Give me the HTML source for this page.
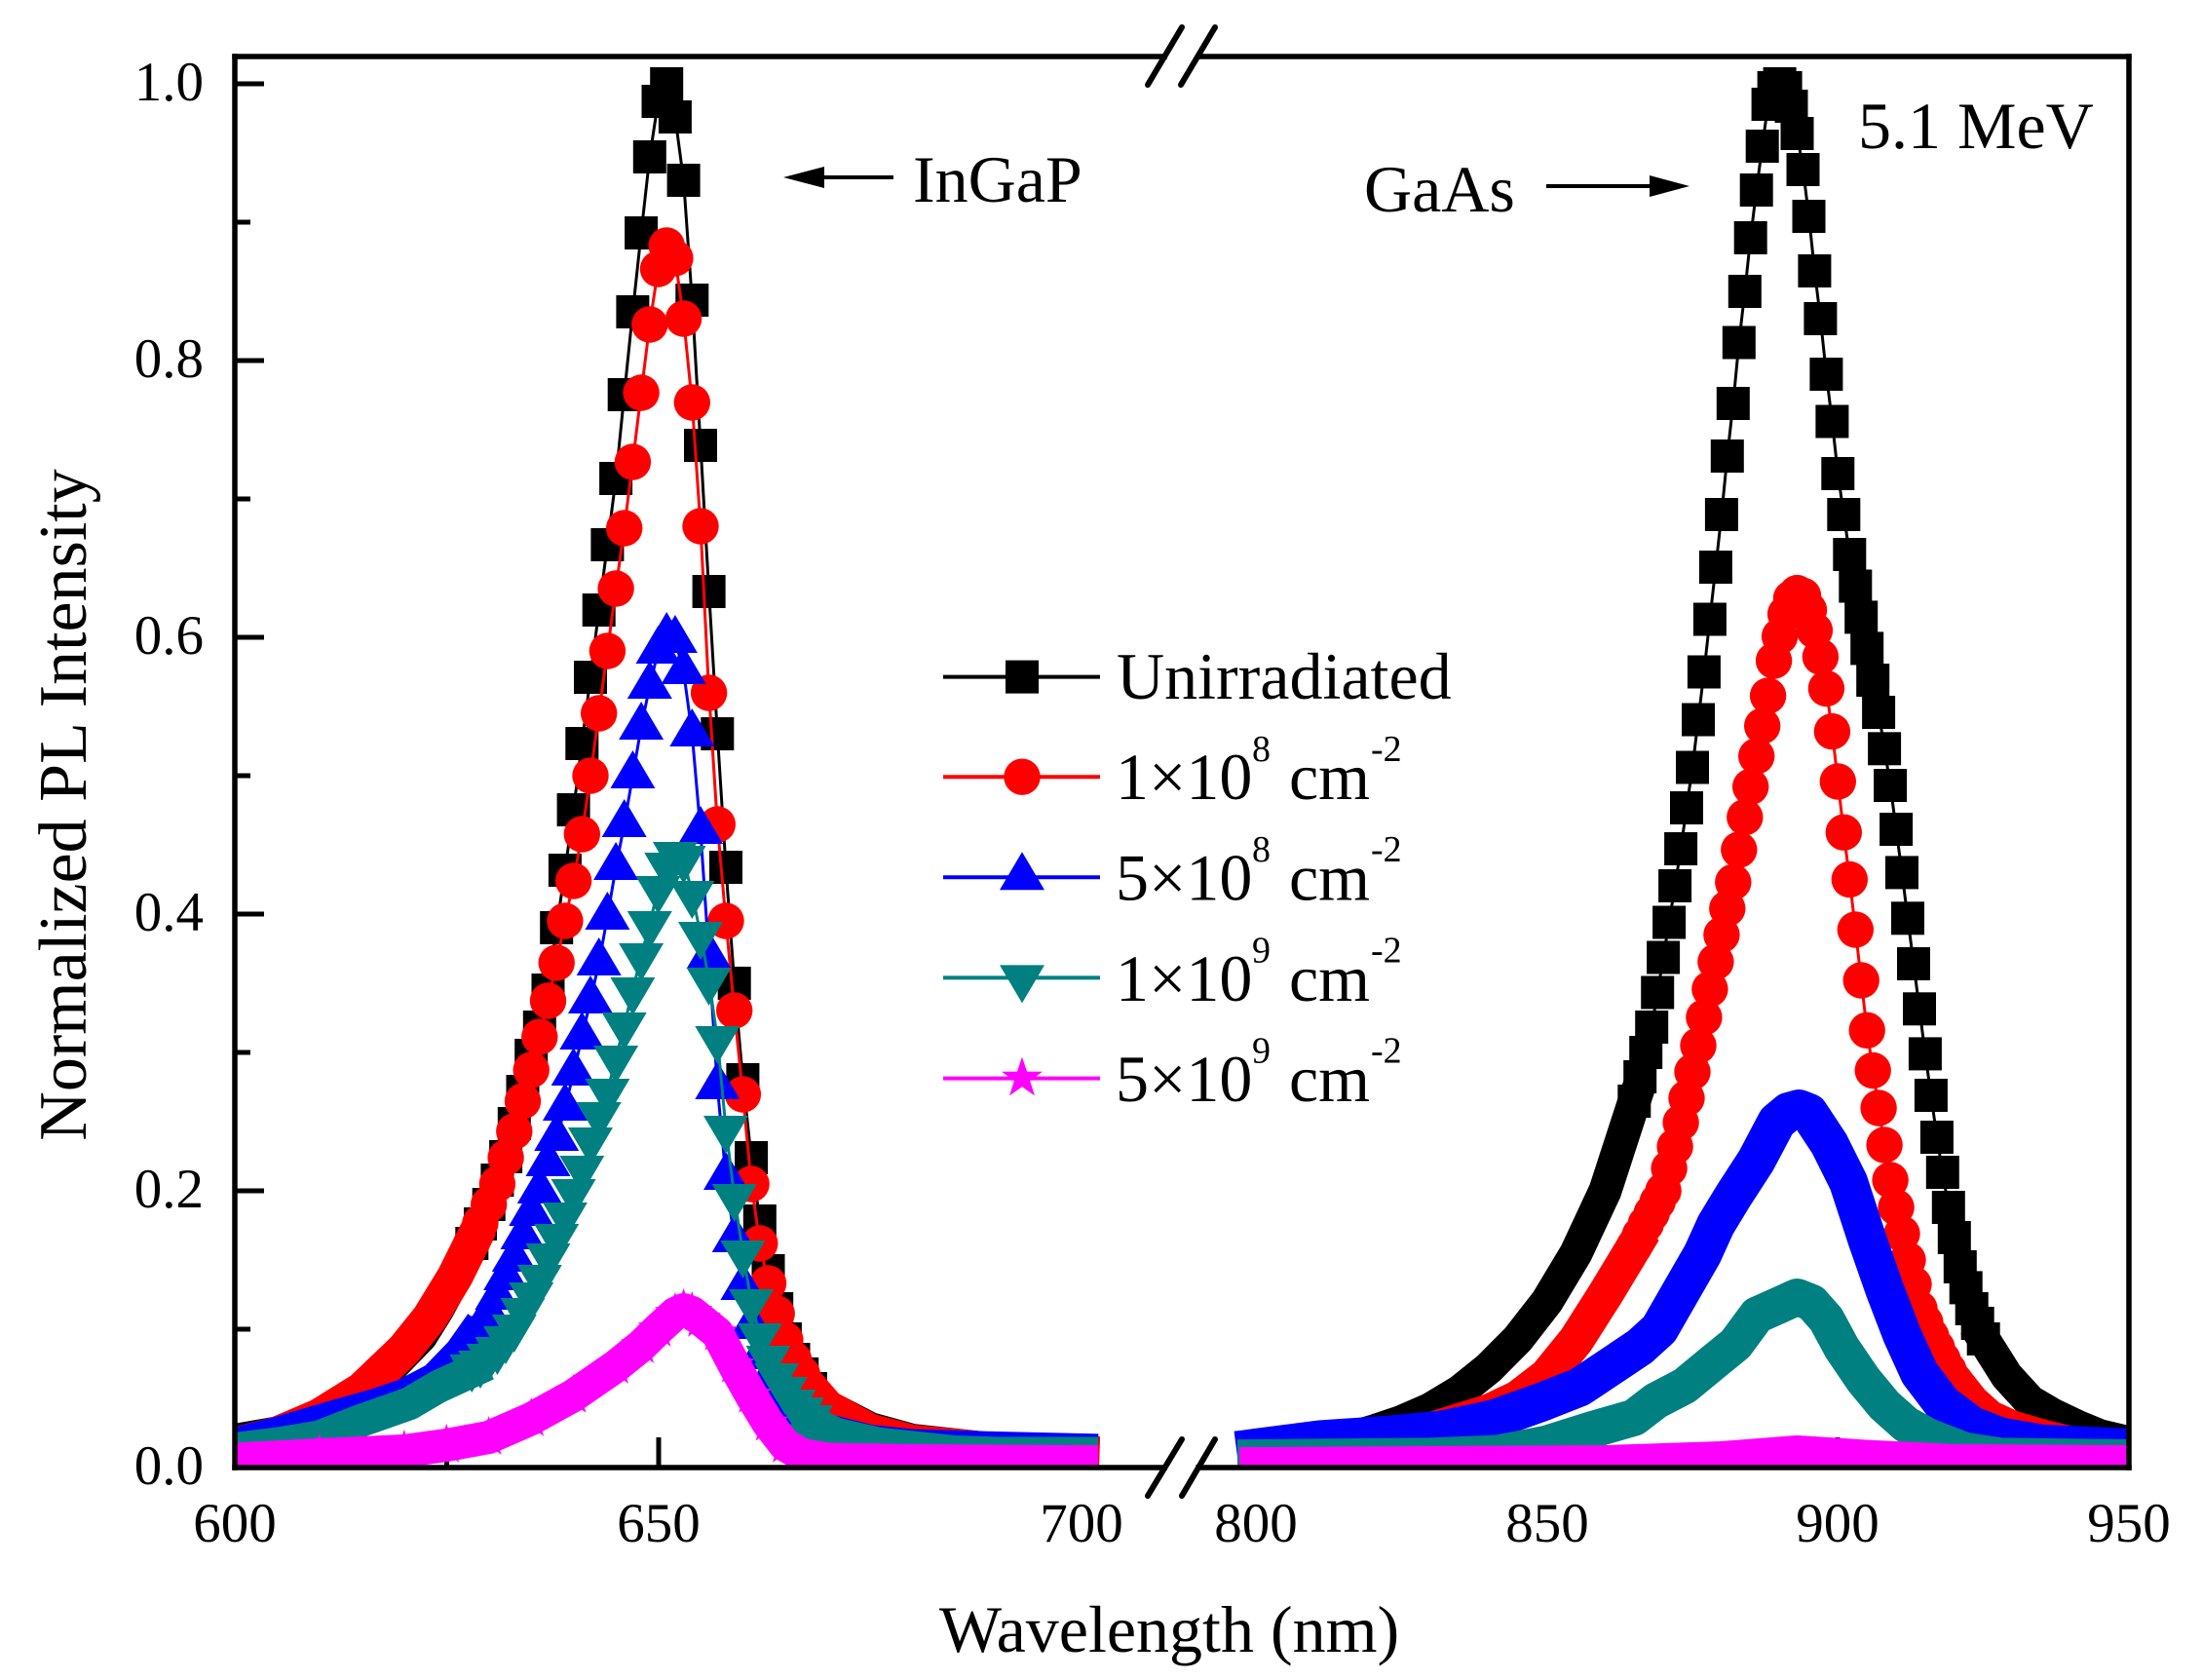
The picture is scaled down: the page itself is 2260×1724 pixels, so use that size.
<!DOCTYPE html>
<html>
<head>
<meta charset="utf-8">
<style>
html,body{margin:0;padding:0;background:#fff;}
svg{display:block;}
text{font-family:"Liberation Serif","Times New Roman",serif;fill:#000;}
</style>
</head>
<body>
<svg xmlns="http://www.w3.org/2000/svg" width="2260" height="1724" viewBox="0 0 2260 1724">
<rect x="0" y="0" width="2260" height="1724" fill="#fff"/>
<defs>
  <clipPath id="pc"><rect x="241" y="58" width="1944" height="1448"/></clipPath>
  <marker id="mS" markerUnits="userSpaceOnUse" markerWidth="60" markerHeight="60" refX="30" refY="30" orient="0" overflow="visible"><rect x="13" y="13" width="34" height="34" fill="#000"/></marker>
  <marker id="mC" markerUnits="userSpaceOnUse" markerWidth="60" markerHeight="60" refX="30" refY="30" orient="0" overflow="visible"><circle cx="30" cy="30" r="18.7" fill="#ff0000"/></marker>
  <marker id="mU" markerUnits="userSpaceOnUse" markerWidth="60" markerHeight="60" refX="30" refY="30" orient="0" overflow="visible"><path d="M30 4L53 43L7 43Z" fill="#0000ff"/></marker>
  <marker id="mD" markerUnits="userSpaceOnUse" markerWidth="60" markerHeight="60" refX="30" refY="30" orient="0" overflow="visible"><path d="M7 17L53 17L30 56Z" fill="#008080"/></marker>
  <marker id="mT" markerUnits="userSpaceOnUse" markerWidth="60" markerHeight="60" refX="30" refY="30" orient="0" overflow="visible"><path d="M30 8L35.06 23.04L50.92 23.2L38.18 32.66L42.93 47.8L30 38.6L17.07 47.8L21.82 32.66L9.08 23.2L24.94 23.04Z" fill="#ff00ff"/></marker>
</defs>

<!-- ticks -->
<g stroke="#000" stroke-width="5" fill="none">
  <line x1="241" y1="1506" x2="271" y2="1506"/>
  <line x1="241" y1="1222" x2="271" y2="1222"/>
  <line x1="241" y1="938" x2="271" y2="938"/>
  <line x1="241" y1="654" x2="271" y2="654"/>
  <line x1="241" y1="370" x2="271" y2="370"/>
  <line x1="241" y1="86" x2="271" y2="86"/>
  <line x1="241" y1="1364" x2="257" y2="1364"/>
  <line x1="241" y1="1080" x2="257" y2="1080"/>
  <line x1="241" y1="796" x2="257" y2="796"/>
  <line x1="241" y1="512" x2="257" y2="512"/>
  <line x1="241" y1="228" x2="257" y2="228"/>
  <line x1="676" y1="1506" x2="676" y2="1475"/>
  <line x1="1110" y1="1506" x2="1110" y2="1475"/>
  <line x1="1289" y1="1506" x2="1289" y2="1475"/>
  <line x1="1588" y1="1506" x2="1588" y2="1475"/>
  <line x1="1886" y1="1506" x2="1886" y2="1475"/>
  <line x1="458.5" y1="1506" x2="458.5" y2="1491"/>
  <line x1="893.5" y1="1506" x2="893.5" y2="1491"/>
  <line x1="1438.5" y1="1506" x2="1438.5" y2="1491"/>
  <line x1="1737" y1="1506" x2="1737" y2="1491"/>
  <line x1="2035.5" y1="1506" x2="2035.5" y2="1491"/>
</g>

<g clip-path="url(#pc)">
  <!-- BLACK: Unirradiated -->
  <g fill="none" stroke="#000" stroke-width="34" stroke-linejoin="round" stroke-linecap="square">
    <path d="M241 1478 L284.5 1470.5 L327.9 1456 L371.4 1428 L397.4 1407 L432.2 1371 L449.6 1343 L466.9 1311 L484.3 1276"/>
    <path d="M831.9 1425 L849.3 1443.5 L892.8 1466 L936.2 1478 L1023.1 1487.5 L1110 1492"/>
    <path d="M1289 1492 L1318.9 1487.5 L1348.7 1483 L1378.6 1477.6 L1408.5 1469 L1438.3 1459 L1468.2 1446 L1498.1 1428 L1528 1404 L1557.8 1374 L1587.7 1335.6 L1617.5 1286 L1647.4 1222 L1677.3 1130"/>
    <path d="M2035.7 1374 L2059.6 1412 L2083.4 1438 L2107.3 1452 L2131.2 1463.4 L2155.1 1473.3 L2185 1480.4"/>
  </g>
  <g fill="none" stroke="#000" stroke-width="3" marker-start="url(#mS)" marker-mid="url(#mS)" marker-end="url(#mS)">
    <path d="M484.3 1276 L493 1256 L501.7 1236 L510.4 1211 L519.1 1187 L527.8 1153 L536.5 1120 L545.2 1083 L553.8 1054 L562.5 1016 L571.2 952 L579.9 893 L588.6 831 L597.3 763 L606 695 L614.7 626 L623.4 559 L632.1 491 L640.7 405 L649.4 320 L658.1 239 L666.8 161 L675.5 104 L684.2 86 L692.9 120 L701.6 185 L710.3 308 L719 457 L727.6 607 L736.3 753 L745 890 L753.7 1009 L762.4 1108 L771.1 1188 L779.8 1253 L788.5 1304 L797.2 1343 L805.9 1374 L814.5 1395 L823.2 1410 L831.9 1425"/>
    <path d="M1677.3 1130 L1683.2 1105 L1689.2 1080 L1695.2 1054 L1701.2 1018.5 L1707.1 982.5 L1713.1 946.5 L1719.1 909 L1725.1 871 L1731 829 L1737 787.5 L1743 738.5 L1748.9 689.5 L1754.9 635.5 L1760.9 582 L1766.9 528 L1772.8 468 L1778.8 414 L1784.8 351.5 L1790.8 299 L1796.7 244 L1802.7 195 L1808.7 150 L1814.6 107 L1820.6 90 L1826.6 86 L1832.6 90 L1838.5 109 L1844.5 137 L1850.5 174 L1856.5 222 L1862.4 278 L1868.4 327 L1874.4 384 L1880.4 432.5 L1886.3 486 L1892.3 528 L1898.3 569 L1904.3 601.5 L1910.2 633.4 L1916.2 665.4 L1922.2 698 L1928.1 731 L1934.1 768.3 L1940.1 806 L1946.1 851 L1952 895.4 L1958 942.3 L1964 989 L1970 1035.3 L1975.9 1081.4 L1981.9 1124 L1987.9 1167 L1993.8 1203 L1999.8 1239 L2005.8 1270 L2011.8 1300 L2017.7 1321.4 L2023.7 1343 L2029.7 1358 L2035.7 1374"/>
  </g>

  <!-- RED: 1e8 -->
  <g fill="none" stroke="#ff0000" stroke-width="37" stroke-linejoin="round" stroke-linecap="square">
    <path d="M241 1483 L284.5 1472 L327.9 1453.5 L371.4 1426.5 L414.8 1385 L440.9 1352.6 L466.9 1310 L484.3 1275"/>
    <path d="M831.9 1425 L849.3 1445 L892.8 1469 L936.2 1480.4 L1023.1 1489 L1110 1492"/>
    <path d="M1289 1494.6 L1348.7 1489 L1408.5 1481.9 L1468.2 1467.7 L1528 1449 L1557.8 1435 L1587.7 1412 L1617.5 1375.4 L1647.4 1328.5 L1677.3 1279"/>
    <path d="M2005.8 1416.5 L2023.7 1439 L2041.6 1455 L2065.5 1466 L2095.4 1474.8 L2125.3 1482 L2155.1 1486 L2185 1489"/>
  </g>
  <g fill="none" stroke="#ff0000" stroke-width="3" marker-start="url(#mC)" marker-mid="url(#mC)" marker-end="url(#mC)">
    <path d="M484.3 1275 L493 1255 L501.7 1236 L510.4 1215 L519.1 1188 L527.8 1161 L536.5 1130 L545.2 1098 L553.8 1064 L562.5 1027 L571.2 988 L579.9 945 L588.6 904 L597.3 856 L606 796 L614.7 732 L623.4 668 L632.1 604 L640.7 542 L649.4 474 L658.1 403 L666.8 333 L675.5 276 L684.2 252 L692.9 265 L701.6 327 L710.3 413 L719 540 L727.6 711 L736.3 846 L745 945 L753.7 1037 L762.4 1123 L771.1 1215 L779.8 1276 L788.5 1317 L797.2 1348 L805.9 1375 L814.5 1395 L823.2 1410 L831.9 1425"/>
    <path d="M1677.3 1279 L1683.2 1267.4 L1689.2 1256 L1695.2 1245 L1701.2 1233.4 L1707.1 1222 L1713.1 1199 L1719.1 1176.6 L1725.1 1152 L1731 1127 L1737 1100 L1743 1073 L1748.9 1044 L1754.9 1015 L1760.9 987 L1766.9 959.3 L1772.8 932.3 L1778.8 905.3 L1784.8 872 L1790.8 838.6 L1796.7 807.4 L1802.7 776 L1808.7 745 L1814.6 714 L1820.6 678 L1826.6 653 L1832.6 630 L1838.5 614 L1844.5 608.6 L1850.5 611.4 L1856.5 626 L1862.4 647 L1868.4 674 L1874.4 706.5 L1880.4 750.6 L1886.3 802 L1892.3 854.2 L1898.3 902.5 L1904.3 954 L1910.2 1006 L1916.2 1057.3 L1922.2 1098.5 L1928.1 1137 L1934.1 1175 L1940.1 1211 L1946.1 1239 L1952 1266 L1958 1293 L1964 1318 L1970 1343 L1975.9 1357 L1981.9 1371 L1987.9 1383 L1993.8 1395 L1999.8 1406 L2005.8 1416.5"/>
  </g>

  <!-- BLUE: 5e8 -->
  <g fill="none" stroke="#0000ff" stroke-width="34" stroke-linejoin="round" stroke-linecap="square" transform="translate(0,-4)">
    <path d="M241 1486 L284.5 1475 L349.6 1456 L385.3 1446 L414.8 1436 L447 1419 L473 1392 L484.3 1376"/>
    <path d="M831.9 1463 L849.3 1472 L892.8 1483 L936.2 1487.5 L1023.1 1490 L1110 1492"/>
  </g>
  <g fill="none" stroke="#0000ff" stroke-width="40" stroke-linejoin="round" stroke-linecap="square" transform="translate(0,-3)">
    <path d="M1289 1489 L1354.7 1480.4 L1420.4 1476 L1480.1 1470.5 L1533.9 1459 L1581.7 1442 L1621.1 1426.5 L1659.4 1401 L1683.2 1385 L1703 1367 L1725.1 1328.5 L1747.3 1290 L1760.9 1260 L1778.8 1230.5 L1802.7 1193.6 L1823.6 1154 L1835.6 1144 L1846.3 1141 L1856.5 1145 L1877.4 1176.6 L1897.1 1216 L1911.5 1260 L1916.2 1274.5 L1934.1 1325.7 L1952 1372.5 L1970 1412 L1993.8 1443.5 L2023.7 1466 L2053.6 1477.6 L2095.4 1484.7 L2185 1489"/>
  </g>
  <g fill="none" stroke="#0000ff" stroke-width="3" marker-start="url(#mU)" marker-mid="url(#mU)" marker-end="url(#mU)">
    <path d="M484.3 1376 L493 1363 L501.7 1348 L510.4 1331 L519.1 1311 L527.8 1292 L536.5 1269 L545.2 1245 L553.8 1222 L562.5 1194 L571.2 1168 L579.9 1137 L588.6 1101 L597.3 1064 L606 1027 L614.7 988 L623.4 941 L632.1 890 L640.7 846 L649.4 796 L658.1 746 L666.8 704 L675.5 668 L684.2 654 L692.9 657 L701.6 689 L710.3 753 L719 853 L727.6 981 L736.3 1115 L745 1208 L753.7 1272 L762.4 1321 L771.1 1361 L779.8 1392 L788.5 1415 L797.2 1429 L805.9 1442 L814.5 1449 L823.2 1456 L831.9 1463"/>
  </g>

  <!-- TEAL: 1e9 -->
  <g fill="none" stroke="#008080" stroke-width="34" stroke-linejoin="round" stroke-linecap="square" transform="translate(0,4)">
    <path d="M241 1483 L284.5 1477.6 L327.9 1470.5 L371.4 1453.5 L420 1436.4 L449.6 1419 L484.3 1403"/>
    <path d="M831.9 1455 L858 1467.7 L901.4 1477.6 L979.7 1486 L1023.1 1487.5 L1110 1487.5"/>
  </g>
  <g fill="none" stroke="#008080" stroke-width="38" stroke-linejoin="round" stroke-linecap="square" transform="translate(0,4)">
    <path d="M1289 1492 L1468.2 1490.4 L1537 1487.5 L1587.7 1477.6 L1633.1 1463.4 L1677.3 1450.6 L1699.4 1433.6 L1729.2 1418 L1758.5 1393.8 L1781.2 1375.4 L1803.3 1345.5 L1825.4 1335.6 L1844.5 1327 L1859.4 1332.8 L1874.4 1349.8 L1890.5 1379.6 L1912.6 1412 L1934.1 1438 L1956.2 1457.7 L1979.5 1470.5 L2016.5 1484.7 L2053.6 1490.4 L2185 1492"/>
  </g>
  <g fill="none" stroke="#008080" stroke-width="3" marker-start="url(#mD)" marker-mid="url(#mD)" marker-end="url(#mD)">
    <path d="M484.3 1403 L493 1399 L501.7 1392 L510.4 1385 L519.1 1374 L527.8 1362 L536.5 1345 L545.2 1329 L553.8 1311 L562.5 1289 L571.2 1269 L579.9 1247 L588.6 1223 L597.3 1199 L606 1170 L614.7 1144 L623.4 1120 L632.1 1086 L640.7 1052 L649.4 1016 L658.1 981 L666.8 948 L675.5 912 L684.2 888 L692.9 877 L701.6 881 L710.3 917 L719 959 L727.6 1006 L736.3 1066 L745 1158 L753.7 1228 L762.4 1286 L771.1 1336 L779.8 1371 L788.5 1394 L797.2 1412 L805.9 1426 L814.5 1439 L823.2 1447 L831.9 1455"/>
  </g>

  <!-- MAGENTA: 5e9 -->
  <g fill="none" stroke="#ff00ff" stroke-width="34" stroke-linejoin="round" stroke-linecap="square">
    <path d="M241 1497.5 L327.9 1493 L414.8 1489 L458.3 1483 L501.7 1475 L545.2 1456 L588.6 1432 L632.1 1402 L658.1 1381 L675.5 1364 L692.9 1348 L701.6 1344 L710.3 1347 L719 1354 L736.3 1368 L753.7 1401 L771.1 1432 L788.5 1460.6 L805.9 1483 L823.2 1493 L849.3 1497.5 L936.2 1499 L1110 1500"/>
    <path d="M1289 1502 L1647.4 1500 L1766.9 1496 L1844.5 1490 L1916.2 1494.6 L2005.8 1499 L2185 1500"/>
  </g>
  <g fill="none" stroke="none" marker-mid="url(#mT)">
    <path d="M241 1497.5 L327.9 1493 L414.8 1489 L458.3 1483 L501.7 1475 L545.2 1456 L588.6 1432 L632.1 1402 L658.1 1381 L675.5 1364 L692.9 1348 L701.6 1344 L710.3 1347 L719 1354 L736.3 1368 L753.7 1401 L771.1 1432 L788.5 1460.6 L805.9 1483 L823.2 1493 L849.3 1497.5"/>
  </g>
</g>

<!-- frame -->
<g stroke="#000" stroke-width="5.5" fill="none" stroke-linecap="square">
  <line x1="241" y1="58" x2="1195" y2="58"/>
  <line x1="1230" y1="58" x2="2185" y2="58"/>
  <line x1="241" y1="1506" x2="1195" y2="1506"/>
  <line x1="1230" y1="1506" x2="2185" y2="1506"/>
  <line x1="241" y1="58" x2="241" y2="1506"/>
  <line x1="2185" y1="58" x2="2185" y2="1506"/>
</g>
<g stroke="#000" stroke-width="6" stroke-linecap="round">
  <line x1="1178" y1="87" x2="1213" y2="28"/>
  <line x1="1212" y1="87" x2="1247" y2="28"/>
  <line x1="1178" y1="1535" x2="1213" y2="1477"/>
  <line x1="1213" y1="1535" x2="1247" y2="1477"/>
</g>

<!-- tick labels -->
<g font-size="57">
  <text x="209" y="1523" text-anchor="end">0.0</text>
  <text x="209" y="1239" text-anchor="end">0.2</text>
  <text x="209" y="955" text-anchor="end">0.4</text>
  <text x="209" y="671" text-anchor="end">0.6</text>
  <text x="209" y="387" text-anchor="end">0.8</text>
  <text x="209" y="103" text-anchor="end">1.0</text>
  <text x="241" y="1582" text-anchor="middle">600</text>
  <text x="676" y="1582" text-anchor="middle">650</text>
  <text x="1110" y="1582" text-anchor="middle">700</text>
  <text x="1289" y="1582" text-anchor="middle">800</text>
  <text x="1588" y="1582" text-anchor="middle">850</text>
  <text x="1886" y="1582" text-anchor="middle">900</text>
  <text x="2185" y="1582" text-anchor="middle">950</text>
</g>

<!-- axis titles -->
<text x="1200" y="1695" font-size="68" text-anchor="middle">Wavelength (nm)</text>
<text transform="translate(88,826) rotate(-90)" font-size="70" text-anchor="middle">Normalized PL Intensity</text>

<!-- annotations -->
<text x="937" y="207" font-size="68">InGaP</text>
<line x1="845" y1="182" x2="917" y2="182" stroke="#000" stroke-width="4"/>
<polygon points="804,182 846,171 846,193" fill="#000"/>
<text x="1400" y="217" font-size="68">GaAs</text>
<line x1="1587" y1="191" x2="1695" y2="191" stroke="#000" stroke-width="4"/>
<polygon points="1734,191 1693,180 1693,202" fill="#000"/>
<text x="1907" y="152" font-size="68">5.1 MeV</text>

<!-- legend -->
<g stroke-width="4">
  <line x1="968" y1="694.6" x2="1129" y2="694.6" stroke="#000"/>
  <line x1="968" y1="797.2" x2="1129" y2="797.2" stroke="#ff0000"/>
  <line x1="968" y1="900.2" x2="1129" y2="900.2" stroke="#0000ff"/>
  <line x1="968" y1="1003.4" x2="1129" y2="1003.4" stroke="#008080"/>
  <line x1="968" y1="1106.6" x2="1129" y2="1106.6" stroke="#ff00ff"/>
</g>
<rect x="1032" y="677.6" width="34" height="34" fill="#000"/>
<circle cx="1049" cy="797.2" r="18.7" fill="#ff0000"/>
<path d="M1049 874.2L1072 913.2L1026 913.2Z" fill="#0000ff"/>
<path d="M1026 990.4L1072 990.4L1049 1029.4Z" fill="#008080"/>
<path d="M1049 1084.6L1054.06 1099.64L1069.92 1099.8L1057.18 1109.26L1061.93 1124.4L1049 1115.2L1036.07 1124.4L1040.82 1109.26L1028.08 1099.8L1043.94 1099.64Z" fill="#ff00ff"/>
<g font-size="68">
  <text x="1146" y="717">Unirradiated</text>
  <text y="820"><tspan x="1145">1×10</tspan><tspan x="1285" y="781" font-size="38">8</tspan><tspan x="1323" y="820">cm</tspan><tspan x="1407" y="781" font-size="38">-2</tspan></text>
  <text y="923.5"><tspan x="1145">5×10</tspan><tspan x="1285" y="884" font-size="38">8</tspan><tspan x="1323" y="923.5">cm</tspan><tspan x="1407" y="884" font-size="38">-2</tspan></text>
  <text y="1027"><tspan x="1145">1×10</tspan><tspan x="1285" y="987.5" font-size="38">9</tspan><tspan x="1323" y="1027">cm</tspan><tspan x="1407" y="987.5" font-size="38">-2</tspan></text>
  <text y="1130"><tspan x="1145">5×10</tspan><tspan x="1285" y="1090.5" font-size="38">9</tspan><tspan x="1323" y="1130">cm</tspan><tspan x="1407" y="1090.5" font-size="38">-2</tspan></text>
</g>
</svg>
</body>
</html>
